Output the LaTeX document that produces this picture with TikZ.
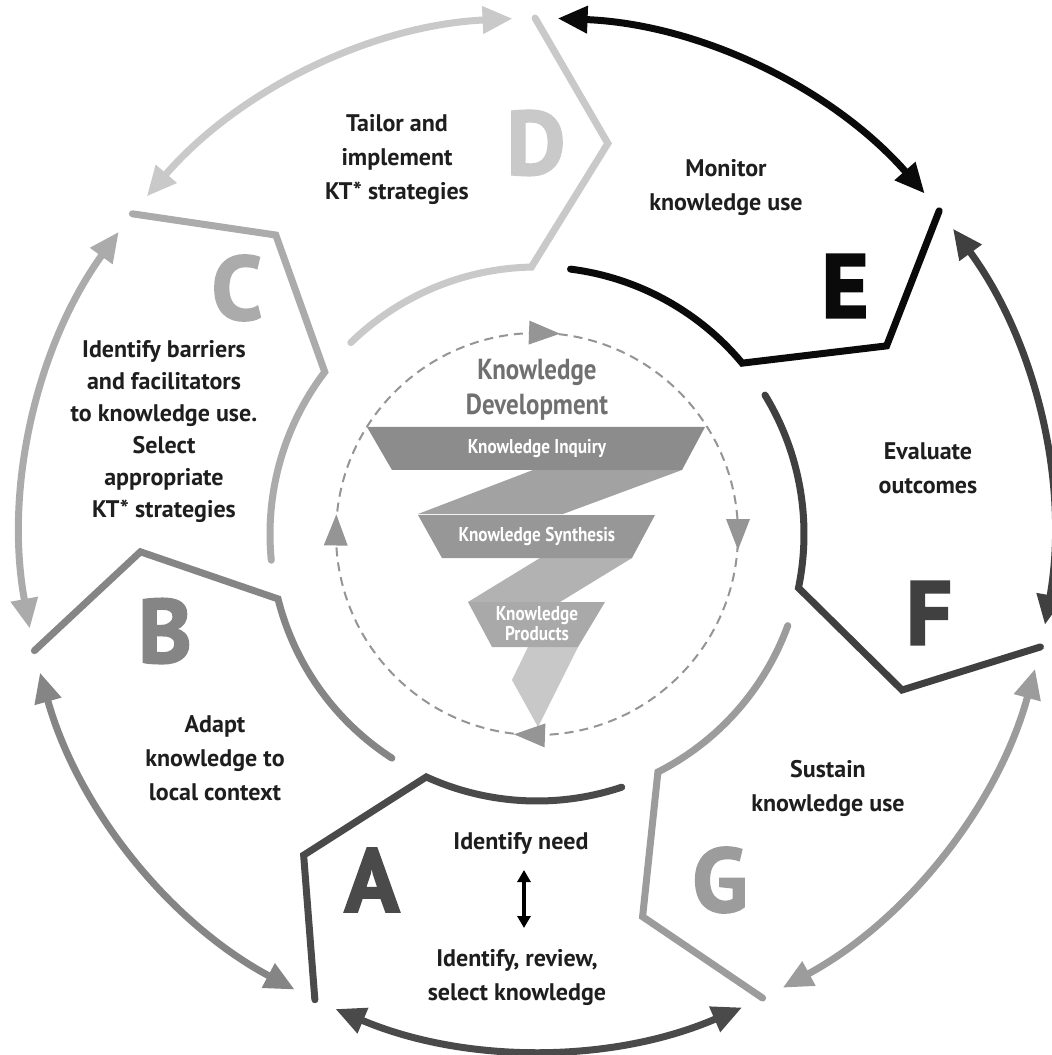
\documentclass[tikz,border=0pt]{standalone}
\usepackage{fontspec}
\setmainfont{PT Sans}
\newfontfamily\lblfont{PT Sans}
\newfontfamily\condfont[FakeStretch=0.86]{PT Sans}
\newfontfamily\letterfont[BoldFeatures={FakeBold=2.5}]{PT Sans}
\usetikzlibrary{arrows.meta}
\definecolor{cA}{HTML}{4A4A4A}
\definecolor{cB}{HTML}{858585}
\definecolor{cC}{HTML}{ABABAB}
\definecolor{cD}{HTML}{C9C9C9}
\definecolor{cE}{HTML}{0A0A0A}
\definecolor{cF}{HTML}{404040}
\definecolor{cG}{HTML}{9C9C9C}
\definecolor{txt}{HTML}{1E1E1E}
\definecolor{fone}{HTML}{8C8C8C}
\definecolor{bone}{HTML}{A2A2A2}
\definecolor{ftwo}{HTML}{979797}
\definecolor{btwo}{HTML}{B2B2B2}
\definecolor{fthree}{HTML}{A9A9A9}
\definecolor{tail}{HTML}{C8C8C8}
\definecolor{title}{HTML}{707070}
\definecolor{dcol}{HTML}{959595}
\begin{document}
\begin{tikzpicture}[x=1pt,y=1pt,
  seg/.style={line width=7pt, line cap=round, line join=miter},
  outarr/.style={line width=7pt, {Triangle[length=30pt,width=26pt]}-{Triangle[length=30pt,width=26pt]}},
  letter/.style={font=\letterfont\fontsize{90}{90}\selectfont\bfseries, inner sep=0pt},
  lbl/.style={font=\lblfont\fontsize{24}{34}\selectfont\bfseries, text=txt, align=center, inner sep=0pt},
  ctitle/.style={font=\condfont\fontsize{29}{35}\selectfont\bfseries, text=title, align=center, inner sep=0pt},
  ftext/.style={font=\condfont\fontsize{20}{20}\selectfont\bfseries, text=white, align=center, inner sep=0pt}
]
\useasboundingbox (-537,-521) rectangle (515,534);
\fill[white] (-537,-521) rectangle (515,534);

% funnel
\fill[tail] (-9,-113) -- (41,-113) -- (1,-193) -- (-25,-146) -- cycle;
\fill[btwo] (3,-24) -- (95,-24) -- (23,-68) -- (-69,-68) -- cycle;
\fill[bone] (-4,64) -- (145,64) -- (26,20) -- (-119,20) -- cycle;
\fill[fone] (-170,107) -- (168,107) -- (145,64) -- (-145,64) -- cycle;
\fill[ftwo] (-119,19) -- (118,19) -- (95,-24) -- (-95,-24) -- cycle;
\fill[fthree] (-69,-68) -- (68,-68) -- (41,-113) -- (-45,-113) -- cycle;
\node[ctitle] (kd) at (0,144) {Knowledge\\Development};
\node[ftext] (ki) at (0,85) {Knowledge Inquiry};
\node[ftext] (ks) at (0,-2) {Knowledge Synthesis};
\node[ftext] (kp) at (0,-90) {Knowledge\\Products};

% dashed circle
\draw[dcol, line width=2pt, dash pattern=on 9pt off 6pt] (0,0) circle[radius=201pt];
\foreach \a in {88,0,268,179} {
  \fill[dcol, rotate=\a] (201,15) -- (213,15) -- (201,-16) -- (189,15) -- cycle;
}

% segments and outer arrows
\foreach \k/\c/\cn in {0/cA/cB,1/cB/cC,2/cC/cD,3/cD/cE,4/cE/cF,5/cF/cG,6/cG/cA} {
  \pgfmathsetmacro\s{288.5-51.4286*\k}
  \pgfmathsetmacro\sa{\s-43}
  \pgfmathsetmacro\sv{\s-54.5}
  \pgfmathsetmacro\se{\s-44}
  \pgfmathsetmacro\ea{\s-44-2.5}
  \pgfmathsetmacro\eb{\s-51.4286-44+2.5}
  \draw[seg, draw=\c] (\s:267pt) arc[start angle=\s, end angle=\sa, radius=267pt]
     -- (\sv:397pt) -- (\se:516pt);
  \draw[outarr, draw=\cn] (\ea:516pt) arc[start angle=\ea, end angle=\eb, radius=516pt];
}

% letters
\node[letter, text=cA] (la) at (-165,-346) {A};
\node[letter, text=cB] (lb) at (-372,-97) {B};
\node[letter, text=cC] (lc) at (-300,246) {C};
\node[letter, text=cD] (ld) at (-1,391) {D};
\node[letter, text=cE] (le) at (308,248) {E};
\node[letter, text=cF] (lf) at (392,-79) {F};
\node[letter, text=cG] (lg) at (183,-346) {G};

% labels
\node[lbl] (td) at (-140,374) {Tailor and\\implement\\KT* strategies};
\node[lbl] (te) at (189,346) {Monitor\\knowledge use};
\node[lbl] (tf) at (391,66) {Evaluate\\outcomes};
\node[lbl] (tg) at (291,-254) {Sustain\\knowledge use};
\node[lbl] (tb) at (-322,-224) {Adapt\\knowledge to\\local context};
\node[lbl, font=\lblfont\fontsize{24}{32}\selectfont\bfseries] (tc) at (-373,102)
  {Identify barriers\\and facilitators\\to knowledge use.\\Select\\appropriate\\KT* strategies};
\node[lbl] (ta1) at (-16,-309) {Identify need};
\node[lbl] (ta2) at (-20,-444) {Identify, review,\\select knowledge};
\coordinate (da) at (-13,-336);
\coordinate (db) at (-13,-394);
\draw[line width=3.5pt, {Triangle[length=12pt,width=13pt]}-{Triangle[length=12pt,width=13pt]}] (da) -- (db);
\end{tikzpicture}
\end{document}
